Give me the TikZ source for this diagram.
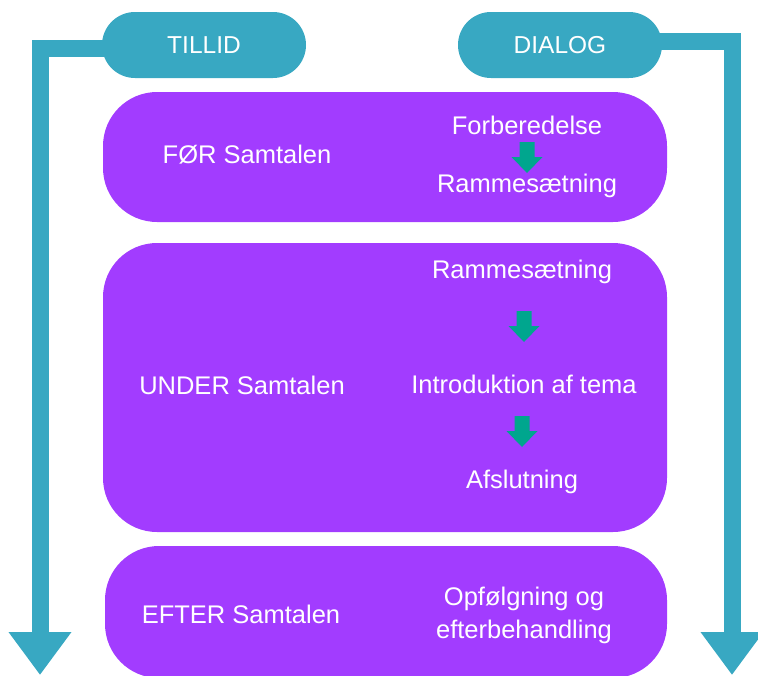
\documentclass[tikz,border=0pt]{standalone}
\usepackage{fontspec}
\setmainfont{Liberation Sans}
\usetikzlibrary{arrows.meta}
\definecolor{pillblue}{RGB}{56,168,194}
\definecolor{boxpurple}{RGB}{162,60,255}
\definecolor{arrowgreen}{RGB}{0,166,142}
\tikzset{
  pill/.style={fill=pillblue, rounded corners=33pt, minimum width=204pt, minimum height=66pt, inner sep=0pt, text=white, font=\fontsize{24.5pt}{29pt}\selectfont},
  phase/.style={fill=boxpurple, rounded corners=54pt, minimum width=564pt, inner sep=0pt},
  lbl/.style={text=white, font=\fontsize{25.5pt}{33pt}\selectfont, inner sep=0pt, align=center},
  flow/.style={draw=pillblue, line width=17pt, -{Triangle[width=60pt,length=43pt]}},
  garrow/.pic={\fill[arrowgreen] (-7.5,0) -- (-7.5,15) -- (-15.5,15) -- (0,31) -- (15.5,15) -- (7.5,15) -- (7.5,0) -- cycle;}
}
\begin{document}
\begin{tikzpicture}[x=1pt,y=-1pt]
\useasboundingbox (0,0) rectangle (758,675);
% connectors
\coordinate (tl) at (130,48);
\coordinate (tb) at (40,675);
\coordinate (dr) at (630,41);
\coordinate (db) at (732,675);
\draw[flow] (tl) -| (tb);
\draw[flow] (dr) -| (db);
% pills
\node[pill] (tillid) at (204,45) {TILLID};
\node[pill] (dialog) at (560,45) {DIALOG};
% phase boxes
\node[phase, minimum height=130pt] (foer) at (385,157) {};
\node[phase, minimum height=289pt] (under) at (385,387.5) {};
\node[phase, minimum height=132pt, minimum width=562pt] (efter) at (386,612) {};
% texts box 1
\node[lbl] (t1) at (247,155) {FØR Samtalen};
\node[lbl] (f1) at (527,125) {Forberedelse};
\node[lbl] (f2) at (527,186) {Rammesætning};
\pic at (527,142) {garrow};
% texts box 2
\node[lbl] (t2) at (242,385) {UNDER Samtalen};
\node[lbl] (u1) at (522,272) {Rammesætning};
\node[lbl] (u2) at (524,384) {Introduktion af tema};
\node[lbl] (u3) at (522,482) {Afslutning};
\pic at (524,311) {garrow};
\pic at (522,416) {garrow};
% texts box 3
\node[lbl] (t3) at (241,614) {EFTER Samtalen};
\node[lbl] (e1) at (524,615) {Opfølgning og\\efterbehandling};
\end{tikzpicture}
\end{document}
